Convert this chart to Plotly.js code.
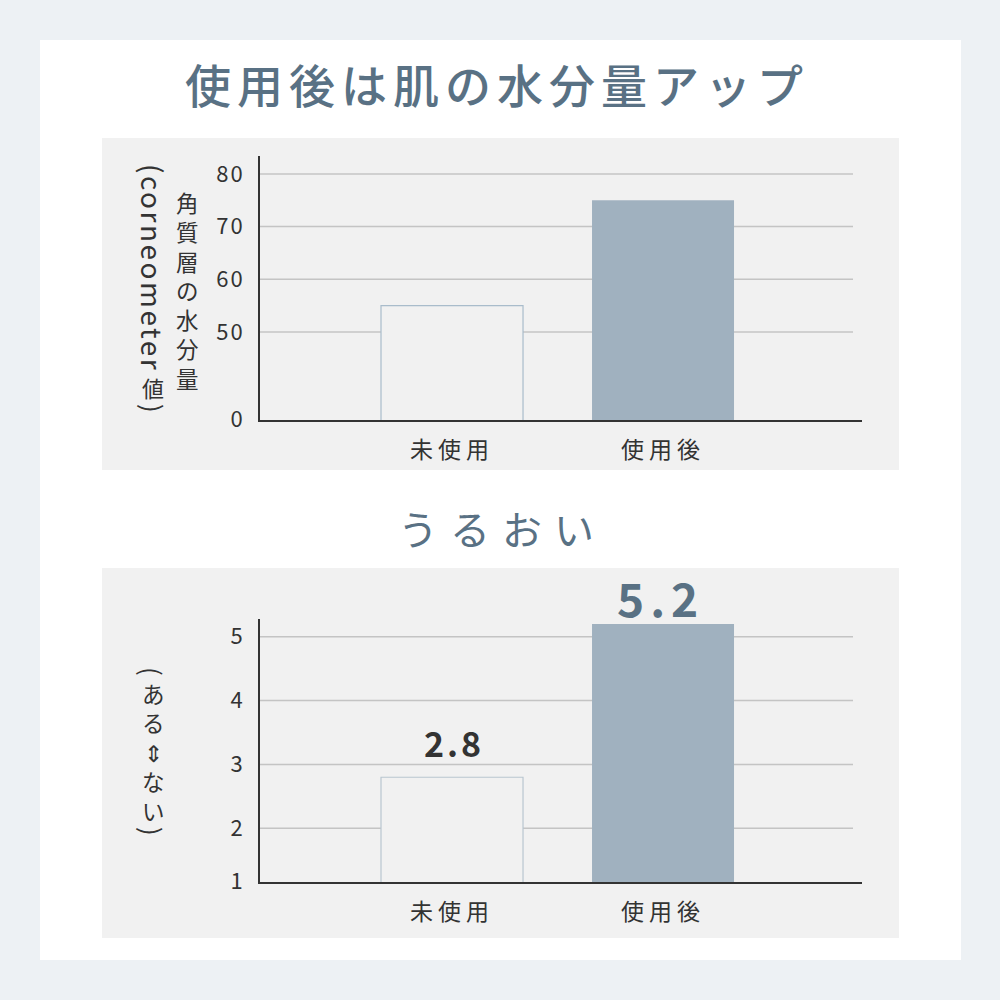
<!DOCTYPE html>
<html><head><meta charset="utf-8">
<script src="https://cdn.plot.ly/plotly-3.0.1.min.js"></script>
<style>
html,body{margin:0;padding:0;background:#edf1f4;}
#chart{width:1000px;height:1000px;}
.xtick text,.x2tick text{letter-spacing:5px;}
.ytick text,.y2tick text{letter-spacing:2px;}
</style></head><body><div id="chart"></div>
<script>
// ---- data ----
const categories = ['未使用', '使用後'];
const moistureValues = [55, 75];
const moistureTickVals = [33.4, 50, 60, 70, 80];   // bottom tick sits at the axis break
const moistureTickText = ['0', '50', '60', '70', '80'];
const uruoiValues = [2.8, 5.2];
const uruoiTickVals = [1.17, 2, 3, 4, 5];          // bottom tick sits at the axis break
const uruoiTickText = ['1', '2', '3', '4', '5'];
const chartTitle = '使用後は肌の水分量アップ';
const sectionTitle = 'うるおい';
const moistureTitleMain = '角質層の水分量';
const moistureTitleLatin = '(corneometer';
const moistureTitleEnd = '値';
const uruoiTitleInner = 'ある⇕ない';

// ---- helpers ----
const FONT = '"Noto Sans CJK JP", "Noto Sans", sans-serif';
const px = v => v / 1000;
const py = v => 1 - v / 1000;
const SLATE = '#597184';
const DARK = '#333333';
const spaced = (t, s) => '<span style="letter-spacing:' + s + 'px">' + t + '</span>';
const stacked = str => Array.from(str).join('<br>');

const shapes = [
  {type:'rect', xref:'paper', yref:'paper', x0:px(40), x1:px(961), y0:py(960), y1:py(40), fillcolor:'#ffffff', line:{width:0}, layer:'below'},
  {type:'rect', xref:'paper', yref:'paper', x0:px(102), x1:px(899), y0:py(470), y1:py(138), fillcolor:'#f1f1f1', line:{width:0}, layer:'below'},
  {type:'rect', xref:'paper', yref:'paper', x0:px(102), x1:px(899), y0:py(938), y1:py(568), fillcolor:'#f1f1f1', line:{width:0}, layer:'below'}
];
moistureTickVals.slice(1).forEach(v => shapes.push({type:'line', xref:'paper', yref:'y', x0:px(260), x1:px(853), y0:v, y1:v, line:{color:'#c4c4c4', width:1.5}, layer:'below'}));
uruoiTickVals.slice(1).forEach(v => shapes.push({type:'line', xref:'paper', yref:'y2', x0:px(260), x1:px(853), y0:v, y1:v, line:{color:'#c4c4c4', width:1.5}, layer:'below'}));

const annotations = [];
annotations.push({xref:'paper', yref:'paper', x:px(497), y:py(83), text:spaced(chartTitle, 6), showarrow:false, xanchor:'center', yanchor:'middle', font:{family:FONT, size:46, color:SLATE, weight:500}});
annotations.push({xref:'paper', yref:'paper', x:px(502), y:py(528), text:spaced(sectionTitle, 12), showarrow:false, xanchor:'center', yanchor:'middle', font:{family:FONT, size:40, color:SLATE}});

// vertical y-axis titles (one glyph per line, latin rotated)
annotations.push({xref:'paper', yref:'paper', x:px(187), y:py(290), text:stacked(moistureTitleMain), showarrow:false, xanchor:'center', yanchor:'middle', font:{family:FONT, size:22.5, color:DARK}});
annotations.push({xref:'paper', yref:'paper', x:px(153), y:py(162), text:spaced(moistureTitleLatin, 2.5), textangle:90, showarrow:false, xanchor:'center', yanchor:'top', font:{family:FONT, size:28, color:DARK}});
annotations.push({xref:'paper', yref:'paper', x:px(153), y:py(387), text:moistureTitleEnd, showarrow:false, xanchor:'center', yanchor:'middle', font:{family:FONT, size:22, color:DARK}});
annotations.push({xref:'paper', yref:'paper', x:px(153), y:py(408), text:')', textangle:90, showarrow:false, xanchor:'center', yanchor:'middle', font:{family:FONT, size:26, color:DARK}});

annotations.push({xref:'paper', yref:'paper', x:px(153), y:py(671), text:'(', textangle:90, showarrow:false, xanchor:'center', yanchor:'middle', font:{family:FONT, size:26, color:DARK}});
annotations.push({xref:'paper', yref:'paper', x:px(153), y:py(751.5), text:stacked(uruoiTitleInner), showarrow:false, xanchor:'center', yanchor:'middle', font:{family:FONT, size:22.5, color:DARK}});
annotations.push({xref:'paper', yref:'paper', x:px(153), y:py(831), text:')', textangle:90, showarrow:false, xanchor:'center', yanchor:'middle', font:{family:FONT, size:26, color:DARK}});

// value labels
const labelStyle = [
  {size:34, color:DARK, spacing:3, yshift:35, xshift:2},
  {size:46, color:SLATE, spacing:6, yshift:27, xshift:-3}
];
uruoiValues.forEach((v, i) => annotations.push({xref:'x2', yref:'y2', x:categories[i], y:v, text:spaced(v.toFixed(1), labelStyle[i].spacing), showarrow:false, xanchor:'center', yanchor:'middle', yshift:labelStyle[i].yshift, xshift:labelStyle[i].xshift, font:{family:FONT, size:labelStyle[i].size, color:labelStyle[i].color, weight:700}}));

const barMarker = {color:['#f1f1f1', '#a0b1bf'], line:{color:['#a9bccb', '#a0b1bf'], width:[1.2, 0]}};
const barMarker2 = {color:['#f1f1f1', '#a0b1bf'], line:{color:['#b9c6d0', '#a0b1bf'], width:[1.2, 0]}};

const traces = [
  {type:'bar', x:categories, y:moistureValues, xaxis:'x', yaxis:'y', marker:barMarker, hoverinfo:'skip'},
  {type:'bar', x:categories, y:uruoiValues, xaxis:'x2', yaxis:'y2', marker:barMarker2, hoverinfo:'skip'}
];

const xBase = {range:[-0.91, 1.943], showline:true, linecolor:'#333', linewidth:2, showgrid:false, zeroline:false, ticks:'', ticklabelstandoff:8, automargin:false, fixedrange:true, tickfont:{family:FONT, size:23, color:DARK}};
const yBase = {showline:true, linecolor:'#333', linewidth:2, showgrid:false, zeroline:false, ticks:'', ticklabelstandoff:9, automargin:false, fixedrange:true, tickmode:'array', tickfont:{family:FONT, size:22, color:DARK}};

const layout = {
  width:1000, height:1000,
  margin:{l:0, r:0, t:0, b:0},
  paper_bgcolor:'#edf1f4', plot_bgcolor:'rgba(0,0,0,0)',
  showlegend:false, bargap:0.327,
  xaxis:Object.assign({}, xBase, {domain:[px(260), px(862)], anchor:'y'}),
  yaxis:Object.assign({}, yBase, {domain:[py(420), py(156)], anchor:'x', range:[33.3, 83.4], tickvals:moistureTickVals, ticktext:moistureTickText}),
  xaxis2:Object.assign({}, xBase, {domain:[px(260), px(862)], anchor:'y2'}),
  yaxis2:Object.assign({}, yBase, {domain:[py(882), py(619)], anchor:'x2', range:[1.16, 5.277], tickvals:uruoiTickVals, ticktext:uruoiTickText}),
  shapes:shapes,
  annotations:annotations
};

Plotly.newPlot('chart', traces, layout, {staticPlot:true, displayModeBar:false});
</script></body></html>
